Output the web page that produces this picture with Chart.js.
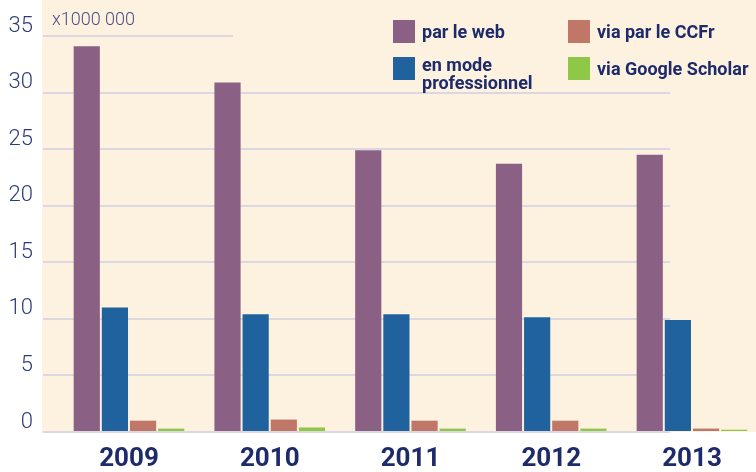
<!DOCTYPE html>
<html>
<head>
<meta charset="utf-8">
<script src="https://cdn.jsdelivr.net/npm/chart.js@4"></script>
<style>
  body { margin: 0; background: #fff; }
  #wrap { width: 756px; height: 472px; }
</style>
</head>
<body>
<div id="wrap"><canvas id="chart"></canvas></div>
<script>
const years = [2009, 2010, 2011, 2012, 2013];
const parLeWeb = [34.1, 30.9, 24.9, 23.7, 24.5];
const modePro = [11.0, 10.4, 10.4, 10.15, 9.9];
const viaCCFr = [1.0, 1.1, 1.0, 1.0, 0.3];
const viaScholar = [0.3, 0.4, 0.3, 0.3, 0.2];
const seriesNames = ["par le web", "en mode\nprofessionnel", "via par le CCFr", "via Google Scholar"];
const seriesColors = ["#8b6085", "#1f629e", "#c07767", "#8fc846"];
const yTicks = [0, 5, 10, 15, 20, 25, 30, 35];
const unitLabel = "x1000 000";

const cream = "#fdf1df";
const navy = "#1d2b6b";

// cream panel behind the plot
const background = {
    id: "background",
    beforeDraw(chart) {
        const c = chart.ctx;
        c.save();
        c.fillStyle = "#fff";
        c.fillRect(0, 0, chart.width, chart.height);
        c.fillStyle = cream;
        c.fillRect(42, 0, chart.width - 42, 433);
        c.restore();
    },
};

// the original grid stops short under the legend and at the right
const gridCover = {
    id: "gridCover",
    beforeDatasetsDraw(chart) {
        const c = chart.ctx;
        c.save();
        c.fillStyle = cream;
        c.fillRect(233, 30, chart.width - 233, 12);
        c.fillRect(670, 42, chart.width - 670, 390);
        c.fillStyle = "#fff";
        c.fillRect(670, 432, chart.width - 670, 4);
        c.restore();
    },
};

const legendAndUnit = {
    id: "legendAndUnit",
    afterDraw(chart) {
        const c = chart.ctx;
        c.save();
        c.fillStyle = "#4a5088";
        c.font = "300 18px Roboto";
        c.textBaseline = "middle";
        c.textAlign = "left";
        c.fillText(unitLabel, 52, 20);

        const cols = [393, 568];
        const rows = [20, 57];
        chart.data.datasets.forEach((ds, i) => {
            const x = cols[Math.floor(i / 2)];
            const y = rows[i % 2];
            c.fillStyle = ds.backgroundColor;
            c.fillRect(x, y, 22, 23);
            c.fillStyle = navy;
            c.font = "bold 18px Roboto";
            const lines = ds.label.split("\n");
            lines.forEach((line, k) => {
                const ty = lines.length > 1 ? y + 9 + k * 18 : y + 13;
                c.fillText(line, x + 29, ty);
            });
        });
        c.restore();
    },
};

const datasets = [parLeWeb, modePro, viaCCFr, viaScholar].map((values, i) => ({
    label: seriesNames[i],
    data: values,
    backgroundColor: seriesColors[i],
    borderWidth: 0,
    categoryPercentage: 0.8,
    barPercentage: 0.93,
}));

new Chart(document.getElementById("chart"), {
    type: "bar",
    data: { labels: years, datasets: datasets },
    options: {
        responsive: true,
        maintainAspectRatio: false,
        animation: false,
        layout: { padding: { top: 36, left: 8, right: 0, bottom: 0 } },
        plugins: {
            legend: { display: false },
            tooltip: { enabled: false },
        },
        scales: {
            x: {
                type: "linear",
                offset: false,
                min: 2008.389,
                max: 2013.455,
                grid: { display: false, drawTicks: false },
                border: { display: false },
                afterFit: (axis) => { axis.height = 40; },
                ticks: {
                    stepSize: 1,
                    includeBounds: false,
                    padding: 12,
                    color: navy,
                    font: { family: "Roboto", size: 26, weight: "bold" },
                    callback: (v) => String(v),
                },
            },
            y: {
                min: 0,
                max: 35,
                afterBuildTicks: (axis) => {
                    axis.ticks = yTicks.map((v) => ({ value: v }));
                },
                afterFit: (axis) => { axis.width = 35; },
                grid: { color: "#dcd8e2", lineWidth: 2, drawTicks: false },
                border: { display: false },
                ticks: {
                    padding: 10,
                    labelOffset: -10,
                    color: "#2e3b7b",
                    font: { family: "Roboto", size: 22, weight: "300" },
                },
            },
        },
    },
    plugins: [background, gridCover, legendAndUnit],
});
</script>
</body>
</html>
